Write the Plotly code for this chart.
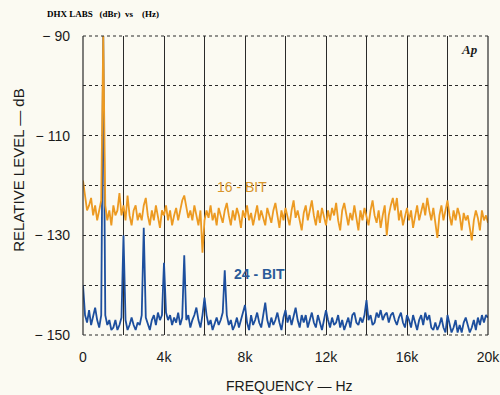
import plotly.graph_objects as go

# ---------------- data ----------------
freq_hz = [i * 100 for i in range(201)]

level_16bit = [
    -119, -122, -125, -124, -122.5, -126, -124, -127, -125, -123,
    -90, -124, -127, -125, -128, -124, -126, -125, -121.5, -126,
    -124, -127, -122, -126, -128, -125, -124, -127, -125.5, -127,
    -124, -122.5, -126, -128, -125, -127, -124, -126.5, -128.5, -125,
    -126, -124, -127, -125, -128, -126, -124.5, -127, -125, -123,
    -122, -124, -126.5, -125, -127, -124, -126, -128, -125, -133.5,
    -127, -125, -126.5, -124, -127, -125.5, -128, -124.5, -126, -127.5,
    -125, -123.5, -126, -128, -125, -127, -124.5, -126, -128.5, -125,
    -126.5, -124, -127, -125.5, -128, -126, -124, -127, -125, -126.5,
    -128, -124.5, -126, -127.5, -125, -123.5, -126, -128.5, -125, -127,
    -124.5, -126, -128, -125, -123, -126.5, -125, -127, -129, -125.5,
    -124, -127, -125, -123, -126, -128, -125, -127.5, -124.5, -126,
    -128, -125, -127, -124.5, -126, -123.5, -127, -129, -125, -123.5,
    -126, -128, -125.5, -127, -124, -126.5, -129, -125, -127, -124.5,
    -126, -128, -125, -123, -126, -127.5, -125, -128.5, -126, -124,
    -130, -126, -124, -122.5, -125, -122.5, -127, -125, -128, -126,
    -124.5, -127, -125, -128.5, -126, -124, -127, -125.5, -123.5, -126,
    -122.5, -125, -127, -124.5, -128, -130.5, -126, -124, -127, -125,
    -123, -126, -128, -125, -127, -124.5, -126, -129, -125.5, -127,
    -126, -128.5, -131, -127, -125, -126.5, -129, -125, -127, -126,
    -127.5,
]

level_24bit = [
    -140, -146, -147.5, -145, -148, -146.5, -144.5, -147, -148.5, -146,
    -90, -146, -148, -147, -149, -148.5, -147, -149, -148, -146.5,
    -130, -147, -149, -148, -146.5, -148, -149, -147.5, -148, -146,
    -128.5, -146.5, -148, -149, -147, -146, -148, -145.5, -147, -146,
    -135.5, -145.5, -147, -146, -148, -146.5, -147.5, -145.5, -148, -146.5,
    -134, -147, -146, -148.5, -147, -146, -144.5, -147, -148.5, -146,
    -142.5, -146, -148, -147, -149, -147.5, -146.5, -148, -147, -145.5,
    -137, -146, -148, -147, -149, -148, -146.5, -148.5, -147, -146,
    -144, -147.5, -149, -146, -148, -147, -145.5, -147.5, -148.5, -146,
    -143.5, -147, -148.5, -146.5, -148, -147, -145.5, -147.5, -149, -146.5,
    -145, -147.5, -146, -148, -146.5, -144.5, -147, -148.5, -146, -147.5,
    -146, -148.5, -147, -145.5, -147.5, -148.5, -146, -147.5, -149, -147,
    -145, -147, -148.5, -146.5, -148, -147.5, -146, -148.5, -147, -149,
    -147.5, -146.5, -148.5, -146, -145.5, -147.5, -148, -146.5, -147.5, -146,
    -143, -147, -146, -148, -147.5, -145.5, -146.5, -145, -147, -146,
    -145.5, -147.5, -146, -145.5, -147, -148, -146.5, -145.5, -147.5, -148.5,
    -146, -147, -148.5, -146, -147.5, -149, -147, -146, -148, -145.5,
    -147, -146, -148.5, -149, -147.5, -149, -148, -146.5, -148.5, -149.5,
    -146, -148, -149.5, -148.5, -147, -149.5, -148, -149.5, -147.5, -146.5,
    -148, -149.5, -148.5, -147, -149, -146.5, -148, -146, -147.5, -146,
    -146.5,
]

x_grid = [0, 2000, 4000, 6000, 8000, 10000, 12000, 14000, 16000, 18000, 20000]
x_ticktext = ["0", "", "4k", "", "8k", "", "12k", "", "16k", "", "20k"]
y_grid = [-150, -140, -130, -120, -110, -100, -90]
y_ticktext = ["− 150", "", "− 130", "", "− 110", "", "− 90"]

BG = "#fbfaf2"
ORANGE = "#ec9a22"
BLUE = "#1d4f9e"
INK = "#1a1a1a"
SANS = "Liberation Sans, Arial, sans-serif"

fig = go.Figure()
fig.add_trace(go.Scatter(x=freq_hz, y=level_24bit, mode="lines",
                         line=dict(color=BLUE, width=1.8), showlegend=False))
fig.add_trace(go.Scatter(x=freq_hz, y=level_16bit, mode="lines",
                         line=dict(color=ORANGE, width=1.8), showlegend=False))

tick_font = dict(family=SANS, size=14, color=INK)

fig.update_layout(
    width=500, height=395,
    margin=dict(l=83, r=12, t=36, b=60, autoexpand=False),
    paper_bgcolor=BG, plot_bgcolor=BG,
    xaxis=dict(range=[0, 20000], tickmode="array", tickvals=x_grid, ticktext=x_ticktext,
               showgrid=True, gridcolor="#2a2a2a", gridwidth=1, griddash="solid",
               zeroline=False, showline=False, ticks="", tickfont=tick_font,
               ticklabelstandoff=12, ticklabeloverflow="allow", automargin=False),
    yaxis=dict(range=[-150, -90], tickmode="array", tickvals=y_grid, ticktext=y_ticktext,
               showgrid=True, gridcolor="#2a2a2a", gridwidth=1, griddash="dot",
               zeroline=False, showline=False, ticks="", tickfont=tick_font,
               ticklabelstandoff=12, ticklabeloverflow="allow", automargin=False),
    shapes=[
        dict(type="line", xref="paper", yref="paper", x0=0, x1=0, y0=0, y1=1,
             line=dict(color="#2a2a2a", width=1.2)),
        dict(type="line", xref="paper", yref="paper", x0=1, x1=1, y0=0, y1=1,
             line=dict(color="#2a2a2a", width=1.2)),
        dict(type="line", xref="paper", yref="paper", x0=0, x1=1, y0=0, y1=0,
             line=dict(color="#2a2a2a", width=1.2, dash="dot")),
        dict(type="line", xref="paper", yref="paper", x0=0, x1=1, y0=1, y1=1,
             line=dict(color="#2a2a2a", width=1.2, dash="dot")),
    ],
    annotations=[
        dict(text="FREQUENCY — Hz", xref="paper", yref="paper", x=0.51, y=-0.138,
             xanchor="center", yanchor="top", showarrow=False,
             font=dict(family=SANS, size=14, color=INK)),
        dict(text="RELATIVE LEVEL — dB", xref="paper", yref="paper", x=-0.16, y=0.55,
             xanchor="center", yanchor="middle", textangle=-90, showarrow=False,
             font=dict(family=SANS, size=15, color=INK)),
        dict(text="<b>DHX LABS\u00a0\u00a0 (dBr)\u00a0 vs\u00a0\u00a0\u00a0 (Hz)</b>",
             xref="paper", yref="paper",
             x=-0.095, y=1.05, xanchor="left", yanchor="bottom", showarrow=False,
             font=dict(family="Liberation Serif, serif", size=9, color="#000")),
        dict(text="<b><i>Ap</i></b>", xref="paper", yref="paper", x=0.98, y=0.985,
             xanchor="right", yanchor="top", showarrow=False,
             font=dict(family="Liberation Serif, serif", size=13, color=INK)),
        dict(text="16 - BIT", x=7850, y=-120.2, xanchor="center", yanchor="middle",
             showarrow=False,
             font=dict(family=SANS, size=14, color="#d8952a")),
        dict(text="<b>24 - BIT</b>", x=8700, y=-137.8, xanchor="center", yanchor="middle",
             showarrow=False,
             font=dict(family=SANS, size=14, color="#2a5a98")),
    ],
)

fig.write_html("out.html", config={"displayModeBar": False},
               post_script="document.body.style.margin='0';")
